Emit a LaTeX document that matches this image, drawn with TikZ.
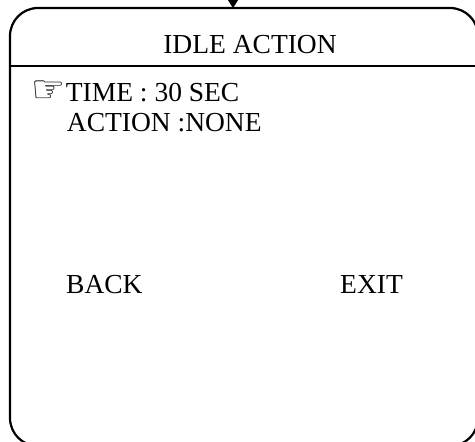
\documentclass[tikz,border=0pt]{standalone}
\usepackage{fontspec}
\setmainfont{Liberation Serif}
\newfontfamily\symfont{DejaVu Sans}
\usetikzlibrary{arrows.meta}
\begin{document}
\begin{tikzpicture}[x=1pt,y=-1pt,
  frameline/.style={line width=2.2pt, rounded corners=28pt},
  sepline/.style={line width=2.5pt},
  menutext/.style={inner sep=0pt, anchor=base west, font=\fontsize{27.5}{30}\selectfont},
  titletext/.style={inner sep=0pt, anchor=base, font=\fontsize{27.5}{30}\selectfont},
  handsym/.style={inner sep=0pt, anchor=base east, font=\symfont\fontsize{38}{40}\selectfont}]
\useasboundingbox (0,0) rectangle (475,442);
\draw[frameline] (10,8) rectangle (478,446);
\coordinate (hl) at (10,66);
\coordinate (hr) at (478,66);
\draw[sepline] (hl) -- (hr);
\coordinate (src) at (233,-1);
\coordinate (top) at (233,8);
\draw[line width=0.1pt, -{Triangle[length=8pt,width=10pt]}] (src) -- (top);
\node[titletext] (title) at (250,53.3) {IDLE ACTION};
\node[menutext] (time) at (65.7,101.7) {TIME : 30 SEC};
\node[handsym] (hand) at ([yshift=-1pt]time.base west) {☞};
\node[menutext] (action) at (66.7,131.7) {ACTION :NONE};
\node[menutext] (back) at (66,293) {BACK};
\node[menutext] (exit) at (340,293) {EXIT};
\end{tikzpicture}
\end{document}
